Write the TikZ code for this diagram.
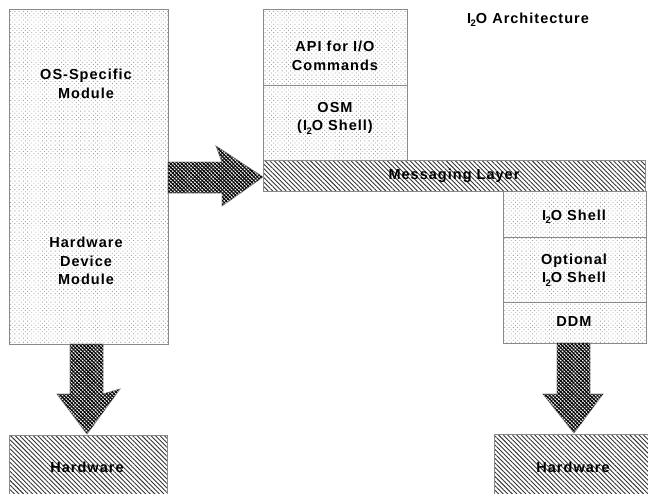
\documentclass[tikz,border=0pt]{standalone}
\usepackage{fontspec}
\setmainfont{Liberation Sans}[LetterSpace=7]
\usetikzlibrary{patterns.meta}
\newcommand\ItwoO{I\kern-0.5pt\raisebox{-0.45ex}{\fontsize{9.5}{9.5}\selectfont 2}O}
\definecolor{edge}{HTML}{8A8A8A}
\tikzset{
  lightbox/.style={draw=edge, line width=0.8pt, fill=white,
    pattern={Dots[radius=0.6pt, distance=3pt, angle=45]}, pattern color=gray!75,
    inner sep=0pt, anchor=north west},
  darkbox/.style={draw=edge, line width=0.8pt,
    pattern={Lines[angle=-45, distance=3.2pt, line width=0.9pt]}, pattern color=black!80,
    inner sep=0pt, anchor=north west},
  bigarrow/.style={draw=edge, line width=0.8pt, fill=white,
    pattern={Lines[angle=-45, distance=2.6pt, line width=1.3pt]}, pattern color=black},
  bigarrowB/.style={
    pattern={Lines[angle=45, distance=2.6pt, line width=0.6pt]}, pattern color=black},
  lbl/.style={font=\fontsize{14.5}{18.5}\selectfont\bfseries, align=center}
}
\begin{document}
\begin{tikzpicture}[x=1pt, y=-1pt]
\useasboundingbox (0,0) rectangle (648,493);
\begin{scope}
\clip (0,0) rectangle (648,493);
% left big box
\node[lightbox, minimum width=159pt, minimum height=335pt] (lbox) at (9,9) {};
\node[lbl] (osm1) at (86,84) {OS-Specific\\Module};
\node[lbl] (hdm) at (86,261) {Hardware\\Device\\Module};
% top stack
\node[lightbox, minimum width=144pt, minimum height=76pt] (api) at (263,9) {};
\node[lbl] (apit) at (335,56) {API for I/O\\Commands};
\node[lightbox, minimum width=144pt, minimum height=75pt] (osm) at (263,85) {};
\node[lbl] (osmt) at (335,118) {OSM\\(\ItwoO{} Shell)};
% messaging layer
\node[darkbox, minimum width=382pt, minimum height=31pt] (msg) at (263,160) {};
\node[lbl] (msgt) at (454,176) {Messaging Layer};
% right stack
\node[lightbox, minimum width=143pt, minimum height=46pt] (shell) at (503,191) {};
\node[lbl] (shellt) at (574,217) {\ItwoO{} Shell};
\node[lightbox, minimum width=143pt, minimum height=65pt] (opt) at (503,237) {};
\node[lbl] (optt) at (574,270) {Optional\\\ItwoO{} Shell};
\node[lightbox, minimum width=143pt, minimum height=41pt] (ddm) at (503,302) {};
\node[lbl] (ddmt) at (574,322) {DDM};
% hardware boxes
\node[darkbox, minimum width=158pt, minimum height=64pt] (hw1) at (9,435) {};
\node[lbl] (hw1t) at (87,467) {Hardware};
\node[darkbox, minimum width=160pt, minimum height=64pt] (hw2) at (494,434) {};
\node[lbl] (hw2t) at (573,467) {Hardware};
% arrows
\foreach \s in {bigarrow,bigarrowB}{
\path[\s] (168,162) -- (222,162) -- (216,146) -- (263,177) -- (222,206) -- (222,193) -- (168,193) -- cycle;
\path[\s] (70,344) -- (70,394) -- (57,394) -- (87,434) -- (120,389) -- (103,394) -- (103,344) -- cycle;
\path[\s] (557,343) -- (557,394) -- (543,394) -- (574,433) -- (603,394) -- (590,394) -- (590,343) -- cycle;
}
% title
\node[lbl] (title) at (528,20) {\ItwoO{} Architecture};
\end{scope}
\end{tikzpicture}
\end{document}
